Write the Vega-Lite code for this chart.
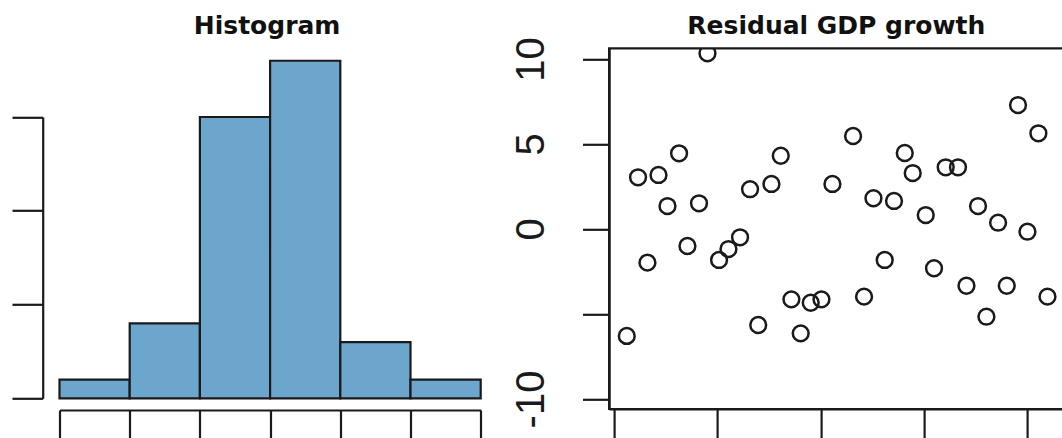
{
  "$schema": "https://vega.github.io/schema/vega-lite/v6.json",
  "autosize": {"type": "none"},
  "padding": {"left": 59.5, "top": 48.3, "right": 1002.5, "bottom": 389.7},
  "background": "white",
  "bounds": "flush",
  "spacing": 127.6,
  "config": {
    "view": {"stroke": null},
    "axis": {"grid": false, "domainColor": "#1a1a1a", "tickColor": "#1a1a1a", "domainWidth": 2.2, "tickWidth": 2.2, "labelColor": "#1a1a1a", "labelFont": "Liberation Sans", "title": null},
    "title": {"font": "DejaVu Sans", "fontSize": 25, "fontWeight": "bold", "color": "#111111", "anchor": "middle", "frame": "group", "baseline": "alphabetic", "offset": 15}
  },
  "datasets": {
    "hist": [
      {"bin_start": -15, "bin_end": -10, "count": 1},
      {"bin_start": -10, "bin_end": -5, "count": 4},
      {"bin_start": -5, "bin_end": 0, "count": 15},
      {"bin_start": 0, "bin_end": 5, "count": 18},
      {"bin_start": 5, "bin_end": 10, "count": 3},
      {"bin_start": 10, "bin_end": 15, "count": 1}
    ],
    "resid": [
      {"t": 1.23, "resid": -6.29}, {"t": 2.32, "resid": 3.04}, {"t": 3.23, "resid": -1.98}, {"t": 4.30, "resid": 3.18},
      {"t": 5.17, "resid": 1.35}, {"t": 6.29, "resid": 4.45}, {"t": 7.10, "resid": -1.00}, {"t": 8.22, "resid": 1.51},
      {"t": 9.04, "resid": 10.34}, {"t": 10.16, "resid": -1.82}, {"t": 11.07, "resid": -1.18}, {"t": 12.19, "resid": -0.49},
      {"t": 13.16, "resid": 2.34}, {"t": 13.95, "resid": -5.65}, {"t": 15.23, "resid": 2.65}, {"t": 16.13, "resid": 4.31},
      {"t": 17.16, "resid": -4.14}, {"t": 18.06, "resid": -6.14}, {"t": 19.03, "resid": -4.34}, {"t": 20.07, "resid": -4.14},
      {"t": 21.13, "resid": 2.65}, {"t": 23.13, "resid": 5.47}, {"t": 24.19, "resid": -3.98}, {"t": 25.10, "resid": 1.81},
      {"t": 26.19, "resid": -1.82}, {"t": 27.09, "resid": 1.65}, {"t": 28.13, "resid": 4.47}, {"t": 28.90, "resid": 3.29},
      {"t": 30.16, "resid": 0.82}, {"t": 30.96, "resid": -2.31}, {"t": 32.09, "resid": 3.63}, {"t": 33.28, "resid": 3.63},
      {"t": 34.10, "resid": -3.34}, {"t": 35.22, "resid": 1.35}, {"t": 36.03, "resid": -5.16}, {"t": 37.16, "resid": 0.37},
      {"t": 38.00, "resid": -3.34}, {"t": 39.09, "resid": 7.29}, {"t": 40.00, "resid": -0.16}, {"t": 41.06, "resid": 5.63},
      {"t": 41.94, "resid": -3.98}
    ]
  },
  "hconcat": [
    {
      "width": 421.2,
      "height": 350,
      "title": {"text": "Histogram", "dx": -3, "dy": 6},
      "data": {"name": "hist"},
      "mark": {"type": "rect", "fill": "#6CA6CD", "stroke": "#1a1a1a", "strokeWidth": 2.2},
      "encoding": {
        "x": {"field": "bin_start", "type": "quantitative",
              "scale": {"domain": [-15, 15], "nice": false, "zero": false},
              "axis": {"values": [-15, -10, -5, 0, 5, 10, 15], "labels": false, "tickSize": 40, "offset": 11.7, "title": null}},
        "x2": {"field": "bin_end"},
        "y": {"field": "count", "type": "quantitative",
              "scale": {"domain": [0, 15], "range": [350, 68.7], "nice": false, "zero": false},
              "axis": {"values": [0, 5, 10, 15], "labels": false, "tickSize": 30.7, "offset": 16.8, "title": null}},
        "y2": {"datum": 0}
      }
    },
    {
      "width": 454.5,
      "height": 360.7,
      "title": {"text": "Residual GDP growth", "dy": 17},
      "view": {"stroke": "#1a1a1a", "strokeWidth": 2.2},
      "data": {"name": "resid"},
      "mark": {"type": "point", "shape": "circle", "filled": false, "size": 250, "strokeWidth": 2.5, "color": "#1a1a1a", "opacity": 1, "clip": true},
      "encoding": {
        "x": {"field": "t", "type": "quantitative",
              "scale": {"domain": [-0.48, 43.5], "nice": false, "zero": false},
              "axis": {"values": [0, 10, 20, 30, 40], "labels": false, "tickSize": 40, "title": null}},
        "y": {"field": "resid", "type": "quantitative",
              "scale": {"domain": [-10.59, 10.63], "nice": false, "zero": false},
              "axis": {"values": [-10, -5, 0, 5, 10],
                       "labelExpr": "datum.value == -5 ? '' : (datum.value < 0 ? '-' + abs(datum.value) : '' + datum.value)",
                       "labelAngle": 270, "labelAlign": "center", "labelBaseline": "alphabetic",
                       "labelPadding": 39, "labelFontSize": 40, "tickSize": 26.6,
                       "labelOverlap": false, "labelFlush": false, "labelBound": false, "title": null}}
      }
    }
  ]
}
